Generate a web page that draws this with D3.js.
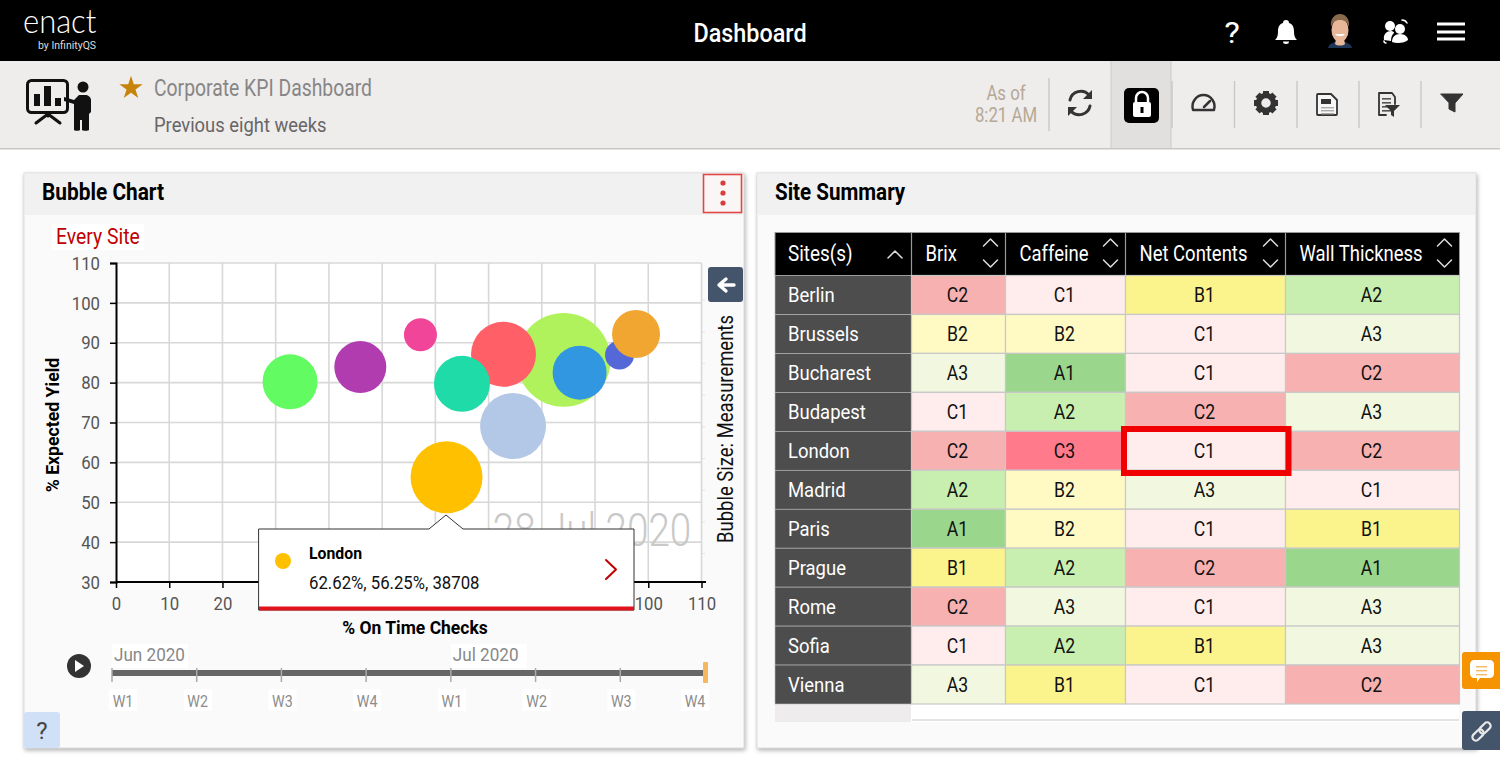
<!DOCTYPE html>
<html>
<head>
<meta charset="utf-8">
<title>Dashboard</title>
<script src="https://cdn.jsdelivr.net/npm/d3@7"></script>
<style>
  html, body { margin: 0; padding: 0; background: #fff; overflow: hidden; }
  svg { display: block; font-family: Roboto, sans-serif; }
</style>
</head>
<body>
<div id="page"></div>
<script>
// bubble chart values
var bubbleX = [84.1, 72.8, 65.0, 74.6, 87.1, 94.6, 97.7, 32.7, 45.9, 57.2, 62.1];
var bubbleY = [85.7, 87.1, 79.7, 69.1, 82.5, 86.9, 92.2, 80.2, 83.9, 92.0, 56.25];
var bubbleSize = [65900, 31500, 23400, 32500, 21770, 6280, 17200, 22590, 20190, 8130, 38708];
var bubbleColor = ["#b0f25c", "#ff5f66", "#1edba8", "#b3c7e6", "#3097e0", "#5568d8", "#f0a630", "#62fb62", "#b03cb0", "#f04598", "#ffc000"];

var xTicks = [0, 10, 20, 30, 40, 50, 60, 70, 80, 90, 100, 110];
var yTicks = [30, 40, 50, 60, 70, 80, 90, 100, 110];

var weeks = ["W1", "W2", "W3", "W4", "W1 ", "W2 ", "W3 ", "W4 "];
var months = ["Jun 2020", "Jul 2020"];

// site summary table
var sites = ["Berlin", "Brussels", "Bucharest", "Budapest", "London", "Madrid", "Paris", "Prague", "Rome", "Sofia", "Vienna"];
var measures = ["Brix", "Caffeine", "Net Contents", "Wall Thickness"];
var grades = [
  ["C2", "C1", "B1", "A2"],
  ["B2", "B2", "C1", "A3"],
  ["A3", "A1", "C1", "C2"],
  ["C1", "A2", "C2", "A3"],
  ["C2", "C3", "C1", "C2"],
  ["A2", "B2", "A3", "C1"],
  ["A1", "B2", "C1", "B1"],
  ["B1", "A2", "C2", "A1"],
  ["C2", "A3", "C1", "A3"],
  ["C1", "A2", "B1", "A3"],
  ["A3", "B1", "C1", "C2"]
];
var gradeNames = ["A1", "A2", "A3", "B1", "B2", "C1", "C2", "C3"];
var gradeColors = ["#9bd68d", "#c8efaf", "#f2f8e0", "#fbf38c", "#fff9c4", "#ffecec", "#f7b1b1", "#ff7b8c"];

var W = 1500, H = 771;
var narrow = 0.84;

var svg = d3.select("#page").append("svg").attr("width", 1509).attr("height", H);

// text helper, Roboto squeezed a bit to look like the condensed face
function label(parent, x, y, str, size, color, anchor, weight, rotate, sx) {
  var tf = "translate(" + x + "," + y + ")" + (rotate ? " rotate(" + rotate + ")" : "") + " scale(" + (sx || narrow) + ",1)";
  return parent.append("text")
    .attr("transform", tf)
    .attr("font-size", size)
    .attr("fill", color || "#000")
    .attr("text-anchor", anchor || "start")
    .attr("font-weight", weight || 400)
    .text(str);
}

function box(parent, x, y, w, h, fill, stroke, rx) {
  return parent.append("rect")
    .attr("x", x).attr("y", y).attr("width", w).attr("height", h)
    .attr("fill", fill || "none")
    .attr("stroke", stroke || "none")
    .attr("rx", rx || 0);
}

function path(parent, d, fill, stroke, sw) {
  return parent.append("path")
    .attr("d", d)
    .attr("fill", fill || "none")
    .attr("stroke", stroke || "none")
    .attr("stroke-width", sw || 1)
    .attr("stroke-linecap", "round")
    .attr("stroke-linejoin", "round");
}

/* ---------- top bar ---------- */
var topBar = svg.append("g");
box(topBar, 0, 0, W, 61, "#000");
label(topBar, 23, 33, "enact", 34, "#fff", "start", 300, 0, 0.91).attr("font-family", "Lato");
label(topBar, 38, 49, "by InfinityQS", 10, "#ddd", "start", 400, 0, 1.05);
label(topBar, 750, 42, "Dashboard", 26, "#fff", "middle", 500, 0, 0.9);
label(topBar, 1232, 43, "?", 30, "#fff", "middle", 400, 0, 1.1);
// bell
path(topBar, "M1286 20c-2 0-3 1-3 3-4 1-5 5-5 8 0 5-1 7-3 9h22c-2-2-3-4-3-9 0-3-1-7-5-8 0-2-1-3-3-3z", "#fff");
path(topBar, "M1283 41.5a3 2.5 0 0 0 6 0z", "#fff");
// avatar
path(topBar, "M1328 48c1-4 5-6 12-7 7 1 11 3 12 7z", "#1d3557");
path(topBar, "M1335 44c2 2 8 2 10 0l-1-5h-8z", "#e8b79a");
topBar.append("ellipse").attr("cx", 1340).attr("cy", 30).attr("rx", 8.5).attr("ry", 12).attr("fill", "#e8b79a");
path(topBar, "M1331 27c-1-9 4-13 9-13s10 4 9 13c-2-5-4-7-9-7s-7 2-9 7z", "#8a6a4c");
path(topBar, "M1335 34c2 3 8 3 10 0z", "#fff");
// team icon
topBar.append("circle").attr("cx", 1390).attr("cy", 26).attr("r", 5).attr("fill", "#fff");
topBar.append("circle").attr("cx", 1400).attr("cy", 29).attr("r", 5).attr("fill", "#fff");
path(topBar, "M1384 40c-1-6 3-9 7-9 2 0 3 1 3 2-2 2-3 4-3 8z", "#fff");
path(topBar, "M1392 42c0-5 3-8 8-8s8 3 8 6c-3 3-11 4-16 2z", "#fff");
path(topBar, "M1402 20c2 0 4 1 5 3", null, "#fff", 1.5);
path(topBar, "M1386 43c-1 0-2-1-2-2", null, "#fff", 1.5);
// hamburger
[24, 32, 39].forEach(function(y) { box(topBar, 1437, y - 1.5, 28, 3, "#fff"); });

/* ---------- tool bar ---------- */
var bar = svg.append("g");
box(bar, 0, 61, W, 88, "#efecec");
box(bar, 0, 148, W, 1.5, "#c9c6c5");
box(bar, 1111, 61, 60, 87, "#e2e0df");
bar.append("line").attr("x1", 1111).attr("x2", 1111).attr("y1", 61).attr("y2", 148).attr("stroke", "#ccc");
bar.append("line").attr("x1", 1171).attr("x2", 1171).attr("y1", 61).attr("y2", 148).attr("stroke", "#ccc");
[1234.5, 1297, 1359, 1421, 1172].forEach(function(x) {
  bar.append("line").attr("x1", x).attr("x2", x).attr("y1", 81).attr("y2", 128).attr("stroke", "#c8c5c4").attr("stroke-width", 1.3);
});
bar.append("line").attr("x1", 1049).attr("x2", 1049).attr("y1", 78).attr("y2", 131).attr("stroke", "#c8c5c4").attr("stroke-width", 1.3);

// presenter icon
box(bar, 27.5, 80.5, 40, 32, "none", "#111", 4).attr("stroke-width", 3);
box(bar, 34, 94, 6, 12, "#111");
box(bar, 44, 86, 7, 20, "#111");
box(bar, 55, 98, 6, 8, "#111");
path(bar, "M36 123l12-9 12 9M48 113v3", null, "#111", 3);
path(bar, "M64 97l10 3 5-5h6c3 0 6 2 6 5v12l-2 2v16c0 1-7 1-7 0v-10h-2v10c0 1-6 1-6 0v-26l-10-3z", "#111");
bar.append("circle").attr("cx", 83).attr("cy", 87).attr("r", 5.5).attr("fill", "#111");

var starGen = d3.symbol().type(d3.symbolStar).size(170);
bar.append("path").attr("d", starGen()).attr("transform", "translate(131,88)").attr("fill", "#c8830c");
label(bar, 154, 96, "Corporate KPI Dashboard", 24, "#868686", "start", 400, 0, 0.806);
label(bar, 154, 132, "Previous eight weeks", 21, "#666", "start", 400, 0, 0.875);
label(bar, 1006, 100, "As of", 20, "#b5a896", "middle");
label(bar, 1006, 122, "8:21 AM", 20, "#b5a896", "middle");

// refresh
path(bar, "M1070 100a11 11 0 0 1 19-5", null, "#333", 3);
path(bar, "M1090 106a11 11 0 0 1-19 5", null, "#333", 3);
path(bar, "M1092 90v9h-9z", "#333");
path(bar, "M1068 116v-9h9z", "#333");
// lock
box(bar, 1124, 88, 35, 35, "#000", null, 5);
box(bar, 1133, 102, 18, 15, "#fff", null, 2);
path(bar, "M1136 102v-4a6 6 0 0 1 12 0v4", null, "#fff", 2.5);
box(bar, 1140.5, 107, 3, 6, "#000");
// gauge
path(bar, "M1193 110a11 11.5 0 1 1 21 0z", null, "#333", 2.5);
path(bar, "M1204 107l6-6", null, "#333", 2.5);
// gear
bar.append("circle").attr("cx", 1266).attr("cy", 103).attr("r", 7.5).attr("fill", "none").attr("stroke", "#333").attr("stroke-width", 5.5);
d3.range(8).forEach(function(i) {
  box(bar, 1263, 91, 6, 5, "#333").attr("transform", "rotate(" + (i * 45) + " 1266 103)");
});
// document
path(bar, "M1318 94h13l6 6v14c0 1 0 1-1 1h-18c-1 0-1 0-1-1v-19c0-1 0-1 1-1z", "#f7f6f6", "#333", 1.8);
box(bar, 1321, 99, 10, 5, "#333");
[107, 110, 113].forEach(function(y) { box(bar, 1321, y, 13, 1.4, "#aaa"); });
// document with filter
path(bar, "M1379 93h13l3 4v7M1386 115h-7v-22", null, "#333", 1.8);
[98, 102, 106, 110].forEach(function(y) { box(bar, 1382, y, 9, 1.6, "#555"); });
path(bar, "M1385 105h15l-6 6v6l-3-2v-4z", "#333");
// funnel
path(bar, "M1441 94h22l-8 9v9l-6-3v-6z", "#333", "#333", 1);

/* ---------- panels ---------- */
function panel(x, w, title, sx) {
  var g = svg.append("g");
  box(g, x, 173, w, 575, "#fafafa", "#ddd").style("filter", "drop-shadow(1px 2px 2px rgba(0,0,0,.3))");
  box(g, x + 1, 174, w - 2, 41, "#f1f1f1");
  label(g, x + 18, 200, title, 23, "#000", "start", 700, 0, sx);
  return g;
}
var leftPanel = panel(24, 720, "Bubble Chart", 0.907);
var rightPanel = panel(757, 719, "Site Summary", 0.895);

// kebab button
box(leftPanel, 703.5, 174.5, 38, 38, "#fbf6f6", "#e04848").attr("stroke-width", 1.6);
[183, 193, 203].forEach(function(y) {
  leftPanel.append("circle").attr("cx", 723).attr("cy", y).attr("r", 2.6).attr("fill", "#d83c3c");
});

box(leftPanel, 52, 224, 92, 26, "#fff");
label(leftPanel, 56, 244, "Every Site", 22, "#c00000", "start", 400, 0, 0.88);

/* ---------- bubble chart ---------- */
var x = d3.scaleLinear().domain([0, 110]).range([116, 701.5]);
var y = d3.scaleLinear().domain([30, 110]).range([582, 263]);
var r = d3.scaleSqrt().domain([0, 38708]).range([0, 36]);

var chart = svg.append("g");
box(chart, 116, 263, 585.5, 319, "#fff");

// grid
chart.append("g")
  .selectAll("line").data(xTicks.slice(1)).enter().append("line")
  .attr("x1", function(d) { return x(d); })
  .attr("x2", function(d) { return x(d); })
  .attr("y1", y(110)).attr("y2", y(30))
  .attr("stroke", "#d8d8d8").attr("stroke-width", 1.6);
chart.append("g")
  .selectAll("line").data(yTicks.slice(1)).enter().append("line")
  .attr("x1", x(0)).attr("x2", x(110))
  .attr("y1", function(d) { return y(d); })
  .attr("y2", function(d) { return y(d); })
  .attr("stroke", "#d8d8d8").attr("stroke-width", 1.6);

// faint ticks of the size strip
chart.append("g")
  .selectAll("line").data(d3.range(9)).enter().append("line")
  .attr("x1", 702).attr("x2", 705)
  .attr("y1", function(d) { return 300 + d * 31.7; })
  .attr("y2", function(d) { return 300 + d * 31.7; })
  .attr("stroke", "#e2e2e2");

label(chart, 592, 546, "28 Jul 2020", 46, "#c9c9c9", "middle", 300);

var xAxis = chart.append("g")
  .attr("transform", "translate(0,582)")
  .call(d3.axisBottom(x).tickValues(xTicks).tickSize(6).tickPadding(9));
var yAxis = chart.append("g")
  .attr("transform", "translate(116,0)")
  .call(d3.axisLeft(y).tickValues(yTicks).tickSize(6).tickPadding(3));
[xAxis, yAxis].forEach(function(a) {
  a.select(".domain").attr("stroke", "#000").attr("stroke-width", 2);
  a.selectAll(".tick line").attr("stroke", "#000").attr("stroke-width", 1.5);
  a.selectAll("text")
    .attr("font-family", "Roboto")
    .attr("font-size", 18)
    .attr("fill", "#555");
});
xAxis.select(".domain").attr("d", "M116,0H706");
xAxis.selectAll("text").attr("transform", "scale(0.93,1)");
yAxis.selectAll("text").attr("x", 0).attr("dy", "0.34em").attr("transform", "translate(-16,0) scale(0.93,1)");

chart.append("g").selectAll("circle")
  .data(bubbleX).enter().append("circle")
  .attr("cx", function(d) { return x(d); })
  .attr("cy", function(d, i) { return y(bubbleY[i]); })
  .attr("r", function(d, i) { return r(bubbleSize[i]); })
  .attr("fill", function(d, i) { return bubbleColor[i]; });

label(chart, 415, 634, "% On Time Checks", 19, "#000", "middle", 700, 0, 0.92);
label(chart, 59, 425, "% Expected Yield", 19, "#000", "middle", 700, -90, 0.93);

// strip to the right of the plot
box(chart, 708, 267, 35, 35, "#44546a").attr("rx", 3);
path(chart, "M734 285h-15M726 279l-7 6 7 6", null, "#fff", 3.4);
label(chart, 733, 429, "Bubble Size: Measurements", 22, "#111", "middle", 400, -90);

// tooltip
var tip = svg.append("g");
path(tip, "M259 529H429L446 515L463 529H634V610H259Z", "#fff", "#333", 1);
box(tip, 259, 606.5, 375, 4, "#e0141c");
tip.append("circle").attr("cx", 283).attr("cy", 561).attr("r", 8).attr("fill", "#ffc000");
label(tip, 309, 559, "London", 17, "#000", "start", 700, 0, 0.93);
label(tip, 309, 589, "62.62%, 56.25%, 38708", 18, "#111", "start", 400, 0, 0.93);
path(tip, "M606 560l10 9.500-10 9.500", null, "#c00000", 2);

/* ---------- time slider ---------- */
var slider = svg.append("g");
var sx = d3.scalePoint().domain(weeks).range([112, 705]);

slider.append("circle").attr("cx", 79).attr("cy", 666).attr("r", 12).attr("fill", "#333");
path(slider, "M75 660l9 6-9 6z", "#fff");

box(slider, 112, 670, 594, 6, "#666");
slider.selectAll("line.t").data(weeks).enter().append("line")
  .attr("x1", function(d) { return sx(d); })
  .attr("x2", function(d) { return sx(d); })
  .attr("y1", 668).attr("y2", 682)
  .attr("stroke", "#aaa").attr("stroke-width", 1.5);
box(slider, 703, 662, 5, 21, "#f5b85f", null, 1);

// white patches behind the week labels
function weekX(d, i) {
  var px = sx(d) + 1;
  if (i === 0) px += 10;
  if (i === weeks.length - 1) px -= 11;
  return px;
}
slider.selectAll("rect.w").data(weeks).enter().append("rect")
  .attr("x", function(d, i) { return weekX(d, i) - 14; })
  .attr("y", 689).attr("width", 28).attr("height", 22)
  .attr("fill", "#fff");
slider.selectAll("text.w").data(weeks).enter().append("text")
  .attr("transform", function(d, i) {
    return "translate(" + weekX(d, i) + ",707) scale(" + narrow + ",1)";
  })
  .attr("text-anchor", "middle")
  .attr("font-size", 17)
  .attr("fill", "#8c8c8c")
  .text(function(d) { return d.trim(); });

months.forEach(function(m, i) {
  var px = sx(weeks[i * 4]) + 2;
  box(slider, px - 2, 644, 76, 24, "#fff");
  label(slider, px, 661, m, 18, "#888", "start", 400, 0, 0.95);
});

// help tab
box(slider, 24, 712, 36, 36, "#cfe0f7", null, 3);
label(slider, 42, 739, "?", 24, "#444", "middle", 400, 0, 1);

/* ---------- site summary table ---------- */
var table = svg.append("g");
var colEdges = [775, 911.5, 1005.5, 1125.5, 1285.5, 1459.5];
var rowY = d3.scaleBand().domain(sites).range([275.500, 704]);
var gradeColor = d3.scaleOrdinal().domain(gradeNames).range(gradeColors);

box(table, 775, 704, 684, 18, "#fff");
box(table, 775, 704, 136, 18, "#eeecec");
box(table, 912, 719, 547, 2, "#e4e2e2");

// header
box(table, colEdges[0], 232.5, colEdges[5] - colEdges[0], 43, "#000", "#999");
label(table, 788, 261, "Sites(s)", 22, "#fff", "start", 400, 0, 0.86);
path(table, "M888 258l7-7 7 7", null, "#ddd", 1.5);
measures.forEach(function(m, i) {
  var left = colEdges[i + 1], right = colEdges[i + 2];
  table.append("line").attr("x1", left).attr("x2", left).attr("y1", 233).attr("y2", 275).attr("stroke", "#999").attr("stroke-width", 1.2);
  label(table, left + 14, 261, m, 22, "#fff", "start");
  var cx = right - 15;
  path(table, "M" + (cx - 7) + " 246l7-7 7 7", null, "#ddd", 1.5);
  path(table, "M" + (cx - 7) + " 260l7 7 7-7", null, "#ddd", 1.5);
});

// rows
var rows = table.selectAll("g.row").data(sites).enter().append("g")
  .attr("transform", function(d) { return "translate(0," + rowY(d) + ")"; });
rows.append("rect")
  .attr("x", colEdges[0]).attr("width", colEdges[1] - colEdges[0])
  .attr("height", rowY.bandwidth())
  .attr("fill", "#4d4d4d").attr("stroke", "#bbb").attr("stroke-width", 0.6);
rows.append("text")
  .attr("transform", "translate(788," + (rowY.bandwidth() / 2 + 7.5) + ") scale(0.88,1)")
  .attr("font-size", 21).attr("fill", "#fff")
  .text(function(d) { return d; });

rows.each(function(site, r) {
  var row = d3.select(this);
  grades[r].forEach(function(g, c) {
    var left = colEdges[c + 1], right = colEdges[c + 2];
    row.append("rect")
      .attr("x", left).attr("width", right - left).attr("height", rowY.bandwidth())
      .attr("fill", gradeColor(g)).attr("stroke", "#c8c8c8").attr("stroke-width", 1.2);
    label(row, (left + right) / 2 - 1, rowY.bandwidth() / 2 + 7.5, g, 21, "#111", "middle");
  });
});

// selected cell
box(table, 1124, 429, 164.5, 44, "none", "#f00000").attr("stroke-width", 6);

/* ---------- side tabs ---------- */
var side = svg.append("g");
box(side, 1462, 652, 44, 37, "#f59300", null, 3);
box(side, 1462, 711, 44, 39, "#44546a", null, 3);
box(side, 1500, 640, 9, 120, "#fff");
path(side, "M1474 660h16c2 0 4 2 4 4v10c0 2-2 4-4 4h-10l-3 4v-4h-3c-2 0-4-2-4-4v-10c0-2 2-4 4-4z", "#fff");
[666, 670, 674].forEach(function(y) { box(side, 1476, y, 11, 1.4, "#f7b866"); });
// two chain links
[[-3.5, 3.5], [3.500, -3.500]].forEach(function(o) {
  side.append("rect")
    .attr("x", -6.5).attr("y", -3.5).attr("width", 13).attr("height", 7).attr("rx", 3.5)
    .attr("transform", "translate(" + (1481.5 + o[0]) + "," + (731.5 + o[1]) + ") rotate(-45)")
    .attr("fill", "none").attr("stroke", "#e8e8e8").attr("stroke-width", 2.2);
});
</script>
</body>
</html>
